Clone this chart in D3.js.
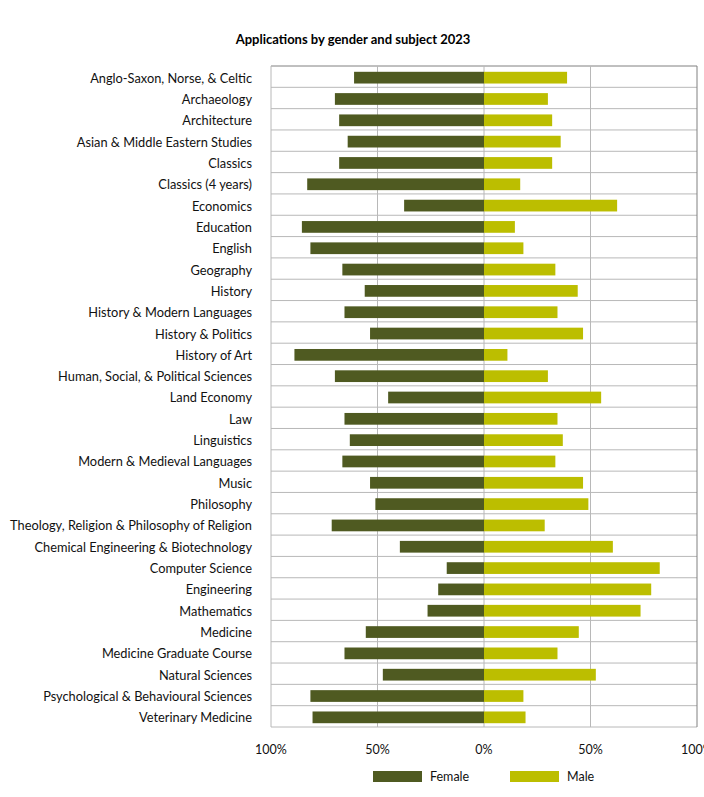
<!DOCTYPE html>
<html>
<head>
<meta charset="utf-8">
<script src="https://cdn.jsdelivr.net/npm/d3@7"></script>
<style>
  body { margin: 0; background: #fff; }
  svg { font-family: Lato, "Open Sans", sans-serif; }
</style>
</head>
<body>
<svg id="chart" width="704" height="797"></svg>
<script>
var subjects = ["Anglo-Saxon, Norse, & Celtic", "Archaeology", "Architecture", "Asian & Middle Eastern Studies",
  "Classics", "Classics (4 years)", "Economics", "Education", "English", "Geography", "History",
  "History & Modern Languages", "History & Politics", "History of Art", "Human, Social, & Political Sciences",
  "Land Economy", "Law", "Linguistics", "Modern & Medieval Languages", "Music", "Philosophy",
  "Theology, Religion & Philosophy of Religion", "Chemical Engineering & Biotechnology", "Computer Science",
  "Engineering", "Mathematics", "Medicine", "Medicine Graduate Course", "Natural Sciences",
  "Psychological & Behavioural Sciences", "Veterinary Medicine"];
var female = [61, 70, 68, 64, 68, 83, 37.5, 85.5, 81.5, 66.5, 56, 65.5, 53.5, 89, 70, 45, 65.5, 63, 66.5, 53.5, 51, 71.5, 39.5, 17.5, 21.5, 26.5, 55.5, 65.5, 47.5, 81.5, 80.5];
var male = [39, 30, 32, 36, 32, 17, 62.5, 14.5, 18.5, 33.5, 44, 34.5, 46.5, 11, 30, 55, 34.5, 37, 33.5, 46.5, 49, 28.5, 60.5, 82.5, 78.5, 73.5, 44.5, 34.5, 52.5, 18.5, 19.5];
var ticks = [-100, -50, 0, 50, 100];

var svg = d3.select("#chart");
var plotL = 271, plotR = 697, plotT = 66, plotB = 727;

var x = d3.scaleLinear().domain([-100, 100]).range([plotL, plotR]);
var y = d3.scaleBand().domain(subjects).range([plotT, plotB]).paddingInner(0.45).paddingOuter(0.225);

var fColor = "#4f5a21", mColor = "#bcbe00";

svg.append("text")
  .attr("x", 353).attr("y", 44)
  .attr("text-anchor", "middle")
  .style("font-size", "13px").style("font-weight", "bold")
  .text("Applications by gender and subject 2023");

// grid
var grid = svg.append("g");
var step = (plotB - plotT) / subjects.length;
d3.range(subjects.length + 1).forEach(function(i){
  grid.append("line")
    .attr("x1", plotL).attr("x2", plotR)
    .attr("y1", plotT + i * step).attr("y2", plotT + i * step)
    .attr("stroke", i == 0 ? "#808080" : "#b8b8b8").attr("stroke-width", 1);
});
ticks.forEach(function(t){
  grid.append("line")
    .attr("x1", x(t)).attr("x2", x(t))
    .attr("y1", plotT).attr("y2", plotB)
    .attr("stroke", t == 100 ? "#808080" : "#b8b8b8").attr("stroke-width", 1);
});

// bars (nudged down a pixel like the original)
var bars = svg.append("g").attr("transform", "translate(0,1)");
bars.append("g").selectAll("rect")
  .data(subjects)
  .enter().append("rect")
  .attr("x", function(d, i){ return x(-female[i]); })
  .attr("width", function(d, i){ return x(0) - x(-female[i]); })
  .attr("y", function(d){ return y(d); })
  .attr("height", y.bandwidth())
  .attr("fill", fColor);

bars.append("g").selectAll("rect")
  .data(subjects)
  .enter().append("rect")
  .attr("x", x(0))
  .attr("width", function(d, i){ return x(male[i]) - x(0); })
  .attr("y", function(d){ return y(d); })
  .attr("height", y.bandwidth())
  .attr("fill", mColor);

// category labels
svg.append("g").selectAll("text")
  .data(subjects)
  .enter().append("text")
  .attr("x", 252)
  .attr("y", function(d){ return y(d) + y.bandwidth() / 2 + 1.5; })
  .attr("dy", "0.35em")
  .attr("text-anchor", "end")
  .style("font-size", "12.8px")
  .style("fill", "#111")
  .text(function(d){ return d; });

// x axis labels
svg.append("g").selectAll("text")
  .data(ticks)
  .enter().append("text")
  .attr("x", function(d){ return x(d); })
  .attr("y", 754)
  .attr("text-anchor", "middle")
  .style("font-size", "12.5px")
  .style("fill", "#111")
  .text(function(d){ return Math.abs(d) + "%"; });

// legend
var legend = [["Female", fColor, 373], ["Male", mColor, 510]];
legend.forEach(function(l){
  svg.append("rect").attr("x", l[2]).attr("y", 771).attr("width", 49).attr("height", 11).attr("fill", l[1]);
  svg.append("text").attr("x", l[2] + 57).attr("y", 777).attr("dy", "0.35em")
    .style("font-size", "12.5px").style("fill", "#111").text(l[0]);
});
</script>
</body>
</html>
